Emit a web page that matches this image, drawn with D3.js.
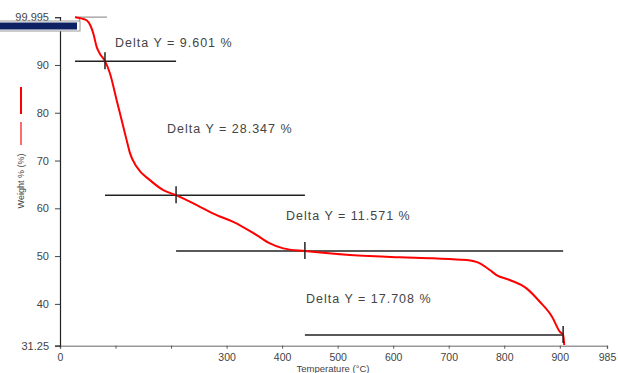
<!DOCTYPE html>
<html>
<head>
<meta charset="utf-8">
<title>TGA</title>
<script src="https://d3js.org/d3.v7.min.js"></script>
<style>
  body { margin: 0; background: #fff; }
  svg { display: block; }
</style>
</head>
<body>
<script>
// curve: temperature (°C) and weight (%)
var temps   = [27, 40, 48, 55, 60, 66, 72, 78, 81, 90, 102, 114, 120, 126, 138, 162, 186, 209, 252, 282, 312, 354, 378, 402, 441, 522, 612, 672, 732, 756, 774, 786, 810, 840, 864, 886, 900, 906, 908];
var weights = [99.995, 99.7, 99.36, 98.2, 96.58, 93.78, 92.3, 91.35, 90.8, 88.21, 82.63, 77.05, 74.27, 71.55, 68.68, 65.9, 63.81, 62.76, 60.32, 58.58, 57.18, 54.4, 52.66, 51.62, 51.05, 50.22, 49.74, 49.53, 49.17, 48.48, 47.08, 46.03, 44.99, 43.25, 40.45, 37.31, 34.18, 33.5, 31.4];

// step markers (temperature) and the level of each delta line
var markerTemps = [27, 81, 209, 441, 906];
var stepLevels  = [90.8, 62.76, 51.05, 33.5];
var deltaLabels = ["Delta Y = 9.601 %", "Delta Y = 28.347 %", "Delta Y = 11.571 %", "Delta Y = 17.708 %"];

var xTicks = [0, 100, 200, 300, 400, 500, 600, 700, 800, 900, 985];
var xTickLabels = ["0", "", "", "300", "400", "500", "600", "700", "800", "900", "985"];
var yTicks = [31.25, 40, 50, 60, 70, 80, 90, 99.995];
var yTickLabels = ["31.25", "40", "50", "60", "70", "80", "90", "99.995"];

var W = 618, H = 373;
var svg = d3.select("body").append("svg").attr("width", W).attr("height", H);

var x = d3.scaleLinear().domain([0, 985]).range([60, 607]);
var y = d3.scaleLinear().domain([31.25, 99.995]).range([345.7, 17.2]);

var font = "Arial, 'Liberation Sans', sans-serif";

// x axis
var xAxis = d3.axisBottom(x).tickValues(xTicks).tickSize(3)
  .tickFormat(function(d, i){ return xTickLabels[i]; });
var gx = svg.append("g").attr("transform", "translate(0," + y(31.25) + ")").call(xAxis);
gx.select(".domain").attr("stroke", "#999").attr("stroke-width", 1.5);
gx.selectAll(".tick line").attr("stroke", "#555");
gx.selectAll("text").attr("font-family", font).attr("font-size", 10.5).attr("fill", "#444").attr("dy", "0.9em");

// y axis
var yAxis = d3.axisLeft(y).tickValues(yTicks).tickSize(5)
  .tickFormat(function(d, i){ return yTickLabels[i]; });
var gy = svg.append("g").attr("transform", "translate(60,0)").call(yAxis);
gy.select(".domain").attr("stroke", "#222").attr("stroke-width", 1.2);
gy.selectAll(".tick line").attr("stroke", "#444");
gy.selectAll("text").attr("font-family", font).attr("font-size", 11).attr("fill", "#444").attr("x", -11);

// axis title
svg.append("text").attr("x", 333).attr("y", 372).attr("text-anchor", "middle")
  .attr("font-family", font).attr("font-size", 9.5).attr("fill", "#444")
  .text("Temperature (°C)");

// legend fragment
svg.append("line").attr("x1", 21).attr("x2", 21).attr("y1", 87).attr("y2", 114)
  .attr("stroke", "#f00").attr("stroke-width", 2);
svg.append("line").attr("x1", 21).attr("x2", 21).attr("y1", 122).attr("y2", 145)
  .attr("stroke", "#ff6a6a").attr("stroke-width", 2);
svg.append("text").attr("transform", "translate(24,181) rotate(-90)").attr("text-anchor", "middle")
  .attr("font-family", font).attr("font-size", 9).attr("fill", "#444")
  .text("Weight % (%)");

// top start marker and covering bar
svg.append("line").attr("x1", x(markerTemps[0])).attr("x2", 107).attr("y1", y(99.995)).attr("y2", y(99.995))
  .attr("stroke", "#999").attr("stroke-width", 1.2);
svg.append("line").attr("x1", 79.5).attr("x2", 79.5).attr("y1", 17).attr("y2", 30.5)
  .attr("stroke", "#999").attr("stroke-width", 1.2);
svg.append("rect").attr("x", -1).attr("y", 21).attr("width", 81).attr("height", 10)
  .attr("fill", "#fff").attr("stroke", "#999").attr("stroke-width", 1);
svg.append("rect").attr("x", 0).attr("y", 22.5).attr("width", 77).attr("height", 7)
  .attr("fill", "#0d2163");

// delta lines
var steps = stepLevels.map(function(v, i){
  return { level: v, t0: markerTemps[i], t1: markerTemps[i + 2] !== undefined ? markerTemps[i + 2] : markerTemps[i + 1], tm: markerTemps[i + 1] };
});
svg.selectAll("line.step").data(steps).enter().append("line")
  .attr("class", "step")
  .attr("x1", function(d){ return x(d.t0); })
  .attr("x2", function(d){ return x(d.t1); })
  .attr("y1", function(d){ return y(d.level); })
  .attr("y2", function(d){ return y(d.level); })
  .attr("stroke", "#222").attr("stroke-width", 1.5);

// curve
var line = d3.line().x(function(d, i){ return x(temps[i]); }).y(function(d){ return y(d); }).curve(d3.curveMonotoneX);
svg.append("path").datum(weights).attr("d", line)
  .attr("fill", "none").attr("stroke", "#f00").attr("stroke-width", 2);

// crossing ticks
svg.selectAll("line.mark").data(steps).enter().append("line")
  .attr("class", "mark")
  .attr("x1", function(d){ return x(d.tm); })
  .attr("x2", function(d){ return x(d.tm); })
  .attr("y1", function(d){ return y(d.level) - 9; })
  .attr("y2", function(d){ return y(d.level) + 8; })
  .attr("stroke", "#222").attr("stroke-width", 1.5);

// labels
var labelPos = [[115, 47], [167, 133], [286, 220], [306, 303]];
svg.selectAll("text.delta").data(deltaLabels).enter().append("text")
  .attr("class", "delta")
  .attr("x", function(d, i){ return labelPos[i][0]; })
  .attr("y", function(d, i){ return labelPos[i][1]; })
  .attr("font-family", font).attr("font-size", 12.5).attr("fill", "#444")
  .attr("letter-spacing", 1)
  .text(function(d){ return d; });
</script>
</body>
</html>
